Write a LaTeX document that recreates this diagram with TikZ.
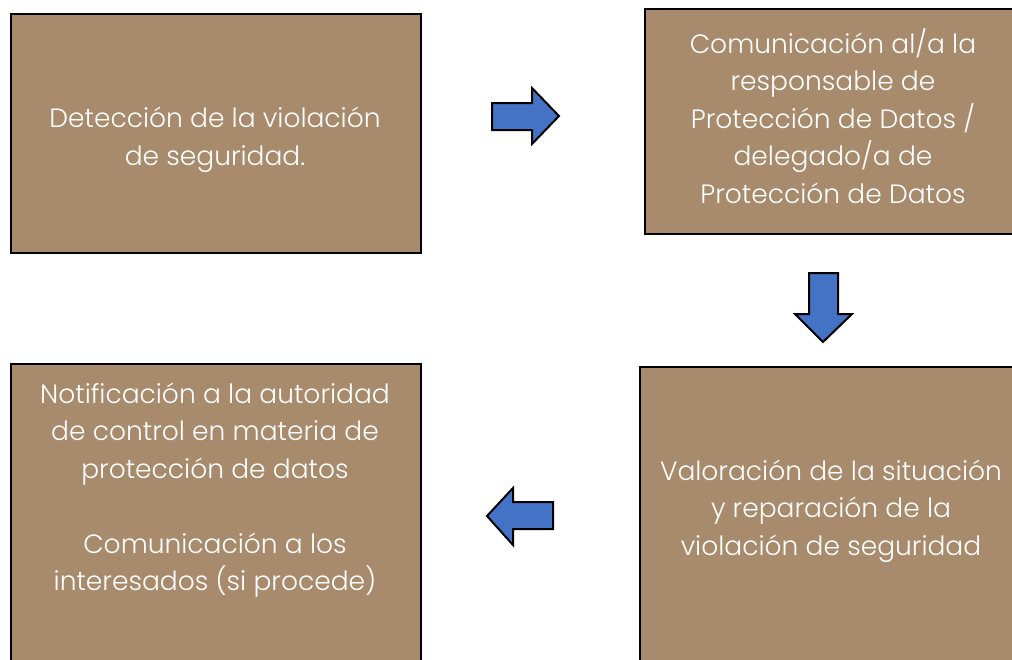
\documentclass[tikz,border=0pt]{standalone}
\usepackage{fontspec}
\setmainfont{Poppins}[UprightFont=*-Light]
\begin{document}
\begin{tikzpicture}[x=1pt,y=-1pt,
  box/.style={draw=black,line width=1.5pt,fill=boxfill,anchor=north west,inner sep=0pt},
  txt/.style={text=white,align=center,font=\fontsize{26.5}{37.5}\selectfont,inner sep=0pt},
  arr/.style={draw=black,line width=2pt,fill=arrowblue,line join=miter}]
\definecolor{boxfill}{HTML}{A88B6C}
\definecolor{arrowblue}{HTML}{4472C4}
\useasboundingbox (0,0) rectangle (1012,659);
\clip (0,0) rectangle (1012,659);
% boxes
\node[box,minimum width=410pt,minimum height=239pt] (b1) at (10,13) {};
\node[box,minimum width=380pt,minimum height=225pt] (b2) at (644,8) {};
\node[box,minimum width=385pt,minimum height=310pt] (b3) at (639,366) {};
\node[box,minimum width=410pt,minimum height=310pt] (b4) at (10,363) {};
% texts
\node[txt] (t1) at (215,140) {Detección de la violación\\de seguridad.};
\node[txt] (t2) at (833,116) {Comunicación al/a la\\responsable de\\Protección de Datos /\\delegado/a de\\Protección de Datos};
\node[txt] (t3) at (831,511) {Valoración de la situación\\y reparación de la\\violación de seguridad};
\node[txt] (t4) at (215,490) {Notificación a la autoridad\\de control en materia de\\protección de datos\\[37.5pt]Comunicación a los\\interesados (si procede)};
% arrows
\draw[arr] (492,103) -- (532,103) -- (532,88) -- (559,116) -- (532,144) -- (532,130) -- (492,130) -- cycle;
\draw[arr] (809,273) -- (838,273) -- (838,314) -- (852,314) -- (823,342) -- (795,314) -- (809,314) -- cycle;
\draw[arr] (553,502) -- (513,502) -- (513,488) -- (487,516) -- (513,545) -- (513,529) -- (553,529) -- cycle;
\end{tikzpicture}
\end{document}
